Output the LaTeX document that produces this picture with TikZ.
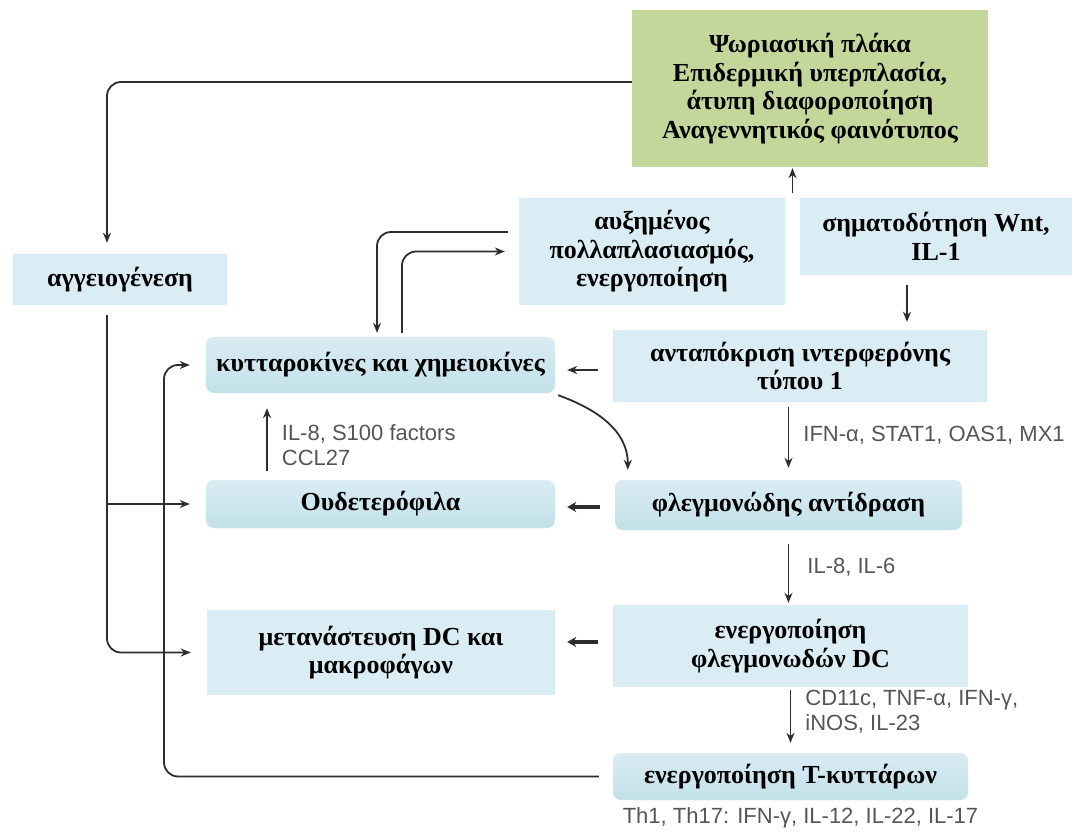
\documentclass[tikz,border=0pt]{standalone}
\usepackage{fontspec}
\setmainfont{Liberation Serif}
\newfontfamily\labelsans{Liberation Sans}
\usetikzlibrary{arrows.meta, positioning, calc}

\definecolor{boxblue}{RGB}{218,236,244}
\definecolor{boxshade}{RGB}{194,225,233}
\definecolor{plaquegreen}{RGB}{196,215,155}
\definecolor{linegray}{RGB}{45,45,45}
\definecolor{labelgray}{RGB}{85,85,85}

\begin{document}
\begin{tikzpicture}[x=1pt, y=-1pt,
    box/.style={fill=boxblue, inner sep=0pt, align=center, font=\fontsize{26}{28.5}\selectfont\bfseries},
    softbox/.style={box, rounded corners=8pt, top color=boxblue, bottom color=boxshade},
    link/.style={draw=linegray, line width=1.8pt, -{Stealth[length=10pt, width=8pt]}},
    bold link/.style={link, line width=3.2pt, -{Stealth[length=9pt, width=10pt]}},
    factor/.style={font=\labelsans\fontsize{22}{25}\selectfont, text=labelgray, align=left, inner sep=0pt}
]
\useasboundingbox (0,0) rectangle (1080,837);

% Top - psoriatic plaque
\node[box, fill=plaquegreen, minimum width=356pt, minimum height=157pt] (plaque) at (810,88.5) {Ψωριασική πλάκα\\Επιδερμική υπερπλασία,\\άτυπη διαφοροποίηση\\Αναγεννητικός φαινότυπος};

% Second row
\node[box, minimum width=266pt, minimum height=107pt] (prolif) at (652,251.5) {αυξημένος\\πολλαπλασιασμός,\\ενεργοποίηση};
\node[box, minimum width=272pt, minimum height=77pt] (wnt) at (936,236.5) {σηματοδότηση Wnt,\\IL-1};
\node[box, minimum width=214pt, minimum height=51pt] (angio) at (120,279.5) {αγγειογένεση};

% Right column
\node[box, minimum width=374pt, minimum height=72pt] (ifn) at (800,366) {ανταπόκριση ιντερφερόνης\\τύπου 1};
\node[softbox, minimum width=347pt, minimum height=50pt] (inflam) at (788.5,505) {φλεγμονώδης αντίδραση};
\node[box, minimum width=355pt, minimum height=82pt] (dcact) at (790.5,646) {ενεργοποίηση\\φλεγμονωδών DC};
\node[softbox, minimum width=355pt, minimum height=47pt] (tcell) at (790.5,776.5) {ενεργοποίηση Τ-κυττάρων};

% Left column
\node[softbox, minimum width=349pt, minimum height=56pt] (cyto) at (380.5,365) {κυτταροκίνες και χημειοκίνες};
\node[softbox, minimum width=349pt, minimum height=48pt] (neutro) at (380.5,504) {Ουδετερόφιλα};
\node[box, minimum width=348pt, minimum height=85pt] (migr) at (381,652.5) {μετανάστευση DC και\\μακροφάγων};

% Bus lines and gap
\coordinate (busA) at (107,0);
\coordinate (busT) at (164,0);
\coordinate (gap) at ($(prolif.north east)!0.5!(wnt.north west)$);

% Feedback loops on the left
\draw[link, rounded corners=14pt, shorten >=11pt] ([yshift=6.5pt]plaque.west) -| (busA |- angio.north);
\draw[link, rounded corners=14pt, shorten <=10pt, shorten >=16pt] (busA |- angio.south) |- (migr.west);
\draw[link, shorten >=16pt] (busA |- neutro.west) -- (neutro.west);
\draw[link, rounded corners=14pt, shorten <=14pt, shorten >=16pt] (tcell.west) -| (busT |- cyto.west) -- (cyto.west);

% Cytokines <-> proliferation
\draw[link, rounded corners=14pt, shorten <=11pt, shorten >=4pt] ([yshift=19.5pt]prolif.west) -| ([xshift=-3.5pt]cyto.north);
\draw[link, rounded corners=14pt, shorten <=4pt, shorten >=14pt] ([xshift=21.5pt]cyto.north) |- (prolif.west);
\draw[link, line width=1.4pt, shorten <=5pt, shorten >=1pt] (gap) -- (gap |- plaque.south);

% Main cascade
\draw[link, shorten <=10pt, shorten >=8pt] ([xshift=-29pt]wnt.south) -- ([xshift=-29pt]wnt.south |- ifn.north);
\draw[link, shorten <=15pt, shorten >=12pt] ([yshift=-4pt]ifn.west) -- ([yshift=-4pt]ifn.west -| cyto.east);
\draw[link] ([xshift=3pt, yshift=-2pt]cyto.south east) to[out=-20, in=90] ([xshift=13pt, yshift=10pt]inflam.north west);
\draw[link, shorten <=5pt, shorten >=12pt] (ifn.south -| inflam) -- (inflam.north) node[factor, pos=0.42, right=14pt] {IFN-α, STAT1, OAS1, MX1};
\draw[link, shorten <=14pt, shorten >=2pt] (inflam.south) -- (inflam.south |- dcact.north) node[factor, midway, right=18pt] {IL-8, IL-6};
\draw[link, shorten <=3pt, shorten >=10pt] (dcact.south) -- (tcell.north) node[factor, pos=0.38, right=14pt] {CD11c, TNF-α, IFN-γ,\\iNOS, IL-23};
\draw[link, shorten <=9pt, shorten >=15pt] ([xshift=-113.5pt]neutro.north) -- ([xshift=-113.5pt]neutro.north |- cyto.south) node[factor, pos=0.4, right=14pt] {IL-8, S100 factors\\CCL27};

% Thick arrows to the left column
\draw[bold link, shorten <=15pt, shorten >=12pt] ([yshift=-2pt]inflam.west) -- ([yshift=-2pt]inflam.west -| neutro.east);
\draw[bold link, shorten <=15pt, shorten >=12pt] ([yshift=4pt]dcact.west) -- ([yshift=4pt]dcact.west -| migr.east);

% T-cell products
\node[factor, anchor=north] (thlabel) at ([xshift=10pt, yshift=-7pt]tcell.south) {Th1, Th17: IFN-γ, IL-12, IL-22, IL-17};

\end{tikzpicture}
\end{document}
